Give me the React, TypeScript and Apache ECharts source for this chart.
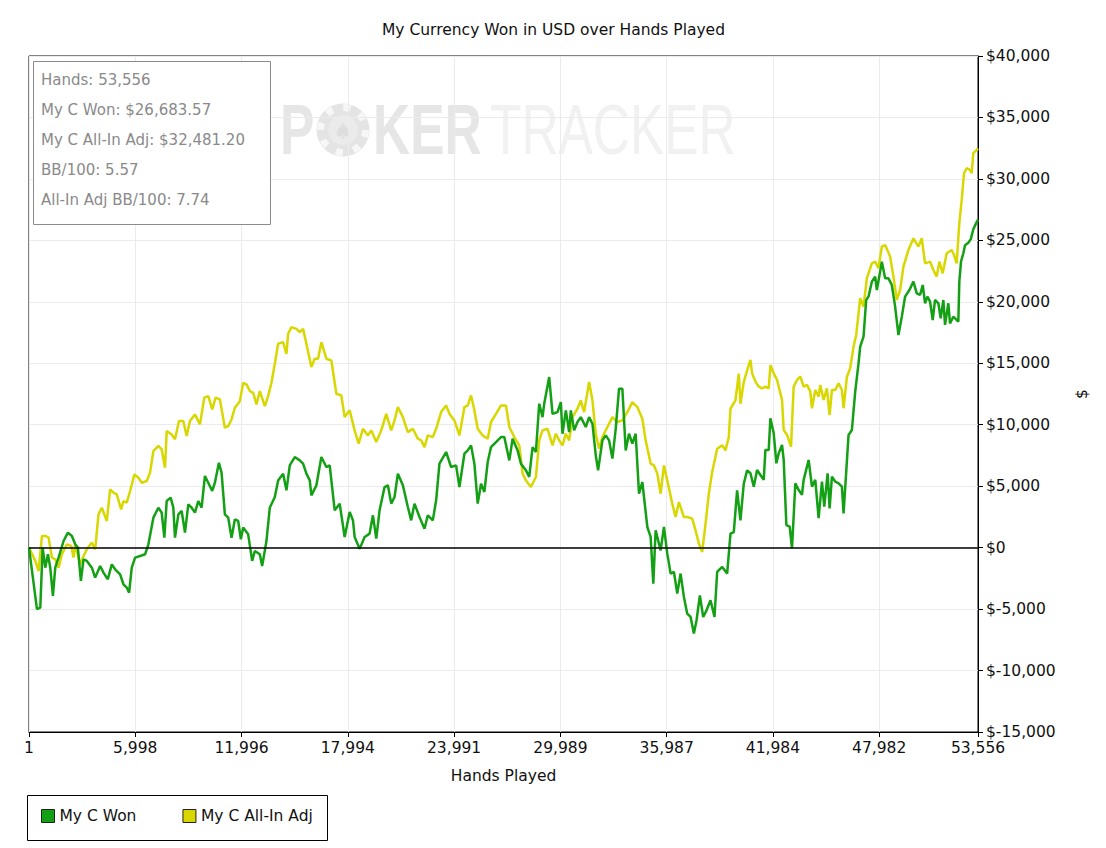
import React, { useEffect, useRef } from "react";
import * as echarts from "echarts";

const TITLE = "My Currency Won in USD over Hands Played";
const X_NAME = "Hands Played";
const Y_NAME = "$";
const seriesNames = ["My C Won", "My C All-In Adj"];
const seriesColors = ["#14a014", "#d8d800"];
const xTickValues = [1, 5998, 11996, 17994, 23991, 29989, 35987, 41984, 47982, 53556];
const yMin = -15000;
const yMax = 40000;
const yStep = 5000;
const infoLines = [
  "Hands: 53,556",
  "My C Won: $26,683.57",
  "My C All-In Adj: $32,481.20",
  "BB/100: 5.57",
  "All-In Adj BB/100: 7.74",
];

const wonHands = [
  1, 450, 638, 770, 920, 1070, 1200, 1351, 1483, 1670, 1952, 2196, 2421, 2609, 2759, 2928, 3078, 3266, 3548, 3735,
  4017, 4204, 4448, 4673, 4861, 5143, 5330, 5518, 5650, 5800, 5988, 6269, 6551, 6739, 7020, 7302, 7489, 7639, 7771, 7996,
  8146, 8240, 8428, 8616, 8803, 8991, 9179, 9366, 9554, 9742, 9929, 10117, 10342, 10492, 10718, 10868, 11055, 11243, 11431, 11618,
  11806, 11956, 12088, 12369, 12595, 12745, 13026, 13158, 13402, 13589,
  13873, 14060, 14342, 14530, 14717, 14999, 15280, 15468, 15656, 15843, 15937, 16219, 16501, 16782, 16970, 17252, 17533, 17815, 18097, 18284,
  18378, 18660, 18941, 19222, 19410, 19598, 19785, 20067, 20255, 20442, 20630, 20818, 21099, 21381, 21569, 21756, 22038, 22320, 22507, 22789,
  22977, 23164, 23540, 23821, 24103, 24291, 24573, 24760, 24948, 25136, 25323, 25511, 25699, 25887, 26073, 26355, 26636, 26824, 27106, 27293,
  27575, 27763, 28044,
  28231, 28419, 28607, 28794, 28982, 29076, 29357, 29545, 29827, 30014, 30108, 30296, 30484, 30577, 30765, 30953, 31141, 31422, 31610, 31798,
  31985, 32117, 32361, 32548, 32736, 32924, 33111, 33299, 33487, 33674, 33862, 34050, 34237, 34426, 34613, 34895, 35082, 35232, 35364, 35646,
  35833, 36021, 36209, 36396, 36584, 36772, 36959, 37147, 37335, 37522, 37673, 37860, 38048, 38236, 38461, 38686, 38836, 39118, 39400, 39587,
  39775, 39962, 40150, 40338, 40526,
  40714, 40902, 41089, 41277, 41465, 41559, 41746, 41840, 42028, 42178, 42309, 42497, 42591, 42741, 42929, 43060, 43248, 43436, 43623, 43717,
  43999, 44186, 44374, 44562, 44750, 44881, 45069, 45181, 45313, 45501, 45688, 45876, 45970, 46120, 46251, 46439, 46627, 46814, 46908, 47096,
  47246, 47377, 47565, 47753, 47847, 48034, 48128, 48316, 48504, 48692, 48879, 49067, 49255, 49442, 49686, 49911, 50099, 50287, 50437, 50568,
  50700, 50850, 50999, 51131, 51319, 51451, 51601, 51695, 51882, 51976, 52164, 52446, 52502,
  52600, 52730, 52823, 53009, 53150, 53290, 53420, 53556,
];
const wonValues = [
  0, -5000, -4880, 0, -1630, -540, -1630, -3930, -1630, -810, 540, 1220, 950, 270, 0, -2710, -950, -1080, -1630, -2440,
  -1490, -2030, -2570, -1360, -1760, -2170, -2980, -3250, -3660, -1630, -810, -680, -540, 270, 2440, 3250, 2850, 810, 3790, 4070,
  3250, 810, 2710, 2980, 1220, 3520, 3250, 2850, 3790, 3250, 5830, 5280, 4610, 5280, 6910, 6100, 2710, 2440, 810, 2300,
  2170, 680, 1630, 1080, -1080, -270, -540, -1490, 540, 3250,
  4120, 5470, 6020, 4660, 6690, 7370, 7100, 6830, 6020, 5470, 4250, 5070, 7370, 6560, 6690, 3040, 3580, 870, 2900, 2220,
  870, -100, 870, 1140, 2630, 730, 3040, 4930, 5070, 3580, 4120, 6020, 5070, 3310, 2220, 3580, 2490, 1540, 2630, 2220,
  3850, 6830, 7780, 6560, 6690, 4930, 7640, 7910, 8320, 6830, 3580, 5200, 4530, 6960, 8180, 8590, 9000, 9000, 7100, 8860,
  7910, 6830, 6290,
  5750, 8180, 7780, 11710, 10620, 11710, 13880, 10890, 11030, 11840, 9270, 11170, 9400, 11170, 9540, 10220, 10620, 9810, 10620, 10080,
  7510, 6290, 8730, 9130, 8730, 7240, 9670, 12930, 12930, 7910, 9270, 8460, 9270, 4390, 5340, 1680, 870, -2930, 1410, -220,
  1680, -490, -2110, -1980, -3740, -2110, -4010, -5370, -5640, -6990, -5910, -3880, -5640, -5100, -4280, -5640, -1980, -1570, -2110, 1140,
  1270, 4660, 2220, 5200, 6290,
  6050, 4960, 6320, 5910, 5510, 7950, 7950, 10520, 9300, 6860, 7670, 8350, 7130, 1840, 1710, -50, 5230, 4690, 4290, 5510,
  7130, 4960, 5510, 2390, 5370, 3340, 6050, 3200, 5780, 5370, 5230, 4960, 2790, 6180, 9170, 9570, 12690, 15000, 16350, 17170,
  20150, 20420, 21640, 22050, 20960, 22460, 23270, 21910, 21910, 21370, 19610, 17300, 18790, 20420, 20960, 21640, 20690, 20560, 21370, 19880,
  20420, 20010, 18520, 20150, 19880, 18660, 20150, 18120, 19880, 18250, 18790, 18390, 21640,
  23300, 23950, 24600, 24800, 25100, 25900, 26300, 26683.57,
];

const adjHands = [
  1, 357, 544, 732, 920, 1107, 1295, 1483, 1670, 1858, 2140, 2384, 2515, 2609, 2891, 3078, 3266, 3548, 3735, 3923,
  4111, 4392, 4580, 4768, 4955, 5199, 5330, 5518, 5706, 5950, 6175, 6363, 6645, 6832, 7020, 7302, 7489, 7677, 7771, 8053,
  8240, 8465, 8709, 8897, 9085, 9366, 9648, 9892, 10117, 10342, 10530, 10774, 11055, 11243, 11431, 11618, 11900, 12088, 12276, 12463,
  12651, 12839, 13026, 13308, 13496, 13683,
  13873, 14060, 14342, 14530, 14624, 14811, 15093, 15280, 15468, 15656, 15937, 16125, 16313, 16501, 16782, 17064, 17346, 17627, 17815, 18097,
  18378, 18603, 18847, 19129, 19316, 19598, 19879, 20161, 20442, 20630, 20818, 21099, 21381, 21663, 21944, 22132, 22320, 22507, 22789, 22977,
  23258, 23540, 23728, 24009, 24291, 24573, 24760, 24948, 25136, 25323, 25605, 25887, 26073, 26355, 26636, 26918, 27106, 27387, 27669, 27857,
  28044, 28325, 28607, 28794, 28982, 29263, 29544, 29733, 29921, 30108, 30296, 30484, 30671, 30953, 31141, 31329, 31610, 31798, 31985, 32173,
  32361, 32642, 32924, 33205, 33487, 33768, 34050, 34332, 34613, 34801, 35083, 35270, 35458, 35646, 35833, 36021, 36303, 36490, 36678, 36960,
  37147, 37429, 37616, 37804, 37992, 38180, 38367, 38555, 38836, 39118, 39306, 39493, 39587, 39869, 40056, 40150, 40338, 40526,
  40714, 40808, 40996, 41183, 41371, 41559, 41746, 41840, 42028, 42216, 42497, 42591, 42779, 43004, 43154, 43342, 43530, 43717, 43905, 44092,
  44187, 44374, 44562, 44656, 44843, 45031, 45181, 45313, 45501, 45688, 45876, 45970, 46158, 46345, 46533, 46683, 46908, 47096, 47283, 47565,
  47753, 47940, 48128, 48316, 48598, 48785, 48973, 49161, 49348, 49630, 49912, 50193, 50381, 50568, 50850, 51037, 51225, 51375, 51563, 51788,
  52070, 52201, 52352,
  52502, 52636, 52766, 52918, 53103, 53200, 53290, 53480, 53556,
];
const adjValues = [
  0, -1080, -1900, 950, 950, 810, -810, -950, -1630, -540, 270, 140, -810, 270, -1360, -680, -140, 410, -140, 2710,
  3250, 2170, 4740, 4470, 4340, 3120, 3790, 3660, 4610, 5960, 5690, 5280, 5420, 6100, 7860, 8270, 7990, 6500, 9490, 9210,
  8810, 10300, 10300, 9080, 10300, 10840, 10030, 12200, 12330, 11250, 12200, 12060, 9760, 9890, 10430, 11380, 11920, 13410, 13280, 12740,
  12600, 11650, 12740, 11520, 12330, 13410,
  14960, 16590, 16720, 15770, 17400, 17940, 17800, 17530, 17800, 16590, 14690, 15370, 15370, 16720, 15370, 15230, 12520, 12380, 10620, 11170,
  9540, 8460, 9670, 9130, 9540, 8590, 9540, 10890, 9540, 10350, 11440, 10620, 9400, 9670, 8860, 8730, 8180, 9130, 8990, 9670,
  11030, 11570, 10890, 10350, 9130, 11440, 11570, 12380, 11170, 9670, 9130, 8860, 10220, 10890, 11570, 11570, 9810, 9000, 8320, 6020,
  5470, 4930, 5750, 8730, 9540, 9670, 8320, 9270, 8730, 8320, 9270, 8730, 10620, 11300, 11980, 11030, 13470, 11980, 9270, 8050,
  9000, 9810, 10620, 10220, 10350, 11030, 11840, 11440, 10490, 8730, 6830, 6690, 6020, 4390, 6690, 5470, 3580, 2490, 3710, 2490,
  2490, 2360, 1410, 330, -350, 1950, 4390, 6150, 8050, 8320, 7910, 9000, 11300, 11980, 14150, 11710, 13470, 14420,
  15270, 14180, 13510, 13100, 12960, 13100, 12960, 14860, 14180, 13640, 12010, 9570, 9170, 8220, 13100, 13640, 13910, 13100, 13240, 12690,
  11340, 12830, 12290, 13240, 12010, 12960, 10790, 12830, 12830, 13370, 12830, 11340, 13910, 14590, 16350, 17300, 20290, 19610, 21910, 23130,
  23270, 22730, 24490, 24620, 23680, 22050, 20150, 20960, 22860, 24220, 25170, 24490, 25170, 23130, 23270, 22590, 22050, 23270, 22320, 23950,
  24220, 23810, 23130,
  26400, 28290, 30460, 30870, 30730, 30460, 32090, 32360, 32481.2,
];

const FONT = "DejaVu Sans";

function money(v: number): string {
  const s = Math.abs(v).toLocaleString("en-US");
  return v < 0 ? "$-" + s : "$" + s;
}

export default function App() {
  const ref = useRef<HTMLDivElement>(null);

  useEffect(() => {
    const el = ref.current;
    if (!el) return;
    const chart = echarts.init(el, null, { renderer: "svg" });

    const wonData = wonHands.map((h, i) => [h, wonValues[i]]);
    const adjData = adjHands.map((h, i) => [h, adjValues[i]]);

    const wmZ = -5;
    const watermark = [
      {
        type: "text",
        x: 280,
        y: 130,
        scaleX: 0.735,
        z: wmZ,
        silent: true,
        style: { text: "P", font: 'bold 70px "Liberation Sans"', fill: "#e6e6e6", textVerticalAlign: "middle" },
      },
      { type: "circle", z: wmZ, silent: true, shape: { cx: 343, cy: 130, r: 26.5 }, style: { fill: "#e4e4e4" } },
      {
        type: "circle",
        z: wmZ,
        silent: true,
        shape: { cx: 343, cy: 130, r: 22.5 },
        style: { fill: "none", stroke: "#f7f7f7", lineWidth: 7, lineDash: [7, 10.67] },
      },
      { type: "circle", z: wmZ, silent: true, shape: { cx: 343, cy: 130, r: 15 }, style: { fill: "#ebebeb" } },
      {
        type: "text",
        x: 343,
        y: 131,
        z: wmZ,
        silent: true,
        style: { text: "\u2660", font: '22px "DejaVu Sans"', fill: "#dedede", textAlign: "center", textVerticalAlign: "middle" },
      },
      {
        type: "text",
        x: 373,
        y: 130,
        scaleX: 0.735,
        z: wmZ,
        silent: true,
        style: { text: "KER", font: 'bold 70px "Liberation Sans"', fill: "#e6e6e6", textVerticalAlign: "middle" },
      },
      {
        type: "text",
        x: 490,
        y: 130,
        scaleX: 0.735,
        z: wmZ,
        silent: true,
        style: { text: "TRACKER", font: '70px "Liberation Sans"', fill: "#f1f1f1", textVerticalAlign: "middle" },
      },
    ];

    const infoBox = [
      {
        type: "rect",
        z: 20,
        shape: { x: 33.5, y: 61.5, width: 237, height: 163 },
        style: { fill: "#ffffff", stroke: "#8c8c8c", lineWidth: 1 },
      },
      ...infoLines.map((t, i) => ({
        type: "text",
        z: 21,
        x: 41,
        y: 80 + 30 * i,
        style: { text: t, font: `15px "${FONT}"`, fill: "#8a8a8a", textVerticalAlign: "middle" },
      })),
    ];

    const legendBox = {
      type: "rect",
      z: 1,
      shape: { x: 27.5, y: 795.5, width: 300, height: 45 },
      style: { fill: "none", stroke: "#000", lineWidth: 1 },
    };

    const option = {
      animation: false,
      backgroundColor: "#ffffff",
      title: {
        text: TITLE,
        left: 382,
        top: 22,
        padding: 0,
        textStyle: { fontFamily: FONT, fontSize: 15.5, fontWeight: "normal", color: "#111" },
      },
      legend: {
        data: seriesNames,
        left: 41,
        top: 808,
        padding: 0,
        icon: "rect",
        itemWidth: 13,
        itemHeight: 13,
        itemGap: 46,
        itemStyle: { borderColor: "#222", borderWidth: 1 },
        textStyle: { fontFamily: FONT, fontSize: 15.5, color: "#111" },
        selectedMode: false,
      },
      grid: {
        left: 29,
        right: 128,
        top: 56,
        bottom: 116,
        show: true,
        borderColor: "#000",
        borderWidth: 1,
        backgroundColor: "transparent",
      },
      xAxis: {
        type: "value",
        min: 1,
        max: 53556,
        name: X_NAME,
        nameLocation: "middle",
        nameGap: 36,
        nameTextStyle: { fontFamily: FONT, fontSize: 15.5, color: "#111" },
        axisLine: { show: true, onZero: false, lineStyle: { color: "#000", width: 1 } },
        axisTick: { show: true, inside: false, length: 5, customValues: xTickValues, lineStyle: { color: "#000" } },
        axisLabel: {
          customValues: xTickValues,
          formatter: (v: number) => Number(v).toLocaleString("en-US"),
          margin: 8,
          fontFamily: FONT,
          fontSize: 15.5,
          color: "#111",
        },
        splitLine: { show: true, lineStyle: { color: "#ebebeb", width: 1 } },
      },
      yAxis: {
        type: "value",
        position: "right",
        min: yMin,
        max: yMax,
        interval: yStep,
        name: Y_NAME,
        nameLocation: "middle",
        nameGap: 96,
        nameTextStyle: { fontFamily: FONT, fontSize: 15.5, color: "#111" },
        axisLine: { show: true, onZero: false, lineStyle: { color: "#000", width: 1 } },
        axisTick: { show: true, inside: false, length: 5, lineStyle: { color: "#000" } },
        axisLabel: { formatter: (v: number) => money(v), margin: 8, fontFamily: FONT, fontSize: 15.5, color: "#111" },
        splitLine: { show: true, lineStyle: { color: "#ebebeb", width: 1 } },
      },
      series: [
        {
          name: seriesNames[0],
          type: "line",
          data: wonData,
          z: 4,
          symbol: "none",
          showSymbol: false,
          color: seriesColors[0],
          lineStyle: { color: seriesColors[0], width: 2.5 },
        },
        {
          name: seriesNames[1],
          type: "line",
          data: adjData,
          z: 3,
          symbol: "none",
          showSymbol: false,
          color: seriesColors[1],
          lineStyle: { color: seriesColors[1], width: 2.5 },
          markLine: {
            silent: true,
            symbol: "none",
            label: { show: false },
            lineStyle: { color: "#000", width: 1.5, type: "solid" },
            data: [{ yAxis: 0 }],
          },
        },
      ],
      graphic: [...watermark, ...infoBox, legendBox],
    };

    chart.setOption(option as any);
    return () => chart.dispose();
  }, []);

  return (
    <div
      ref={ref}
      style={{ position: "fixed", left: 0, top: 0, width: 1106, height: 848, background: "#fff" }}
    />
  );
}
